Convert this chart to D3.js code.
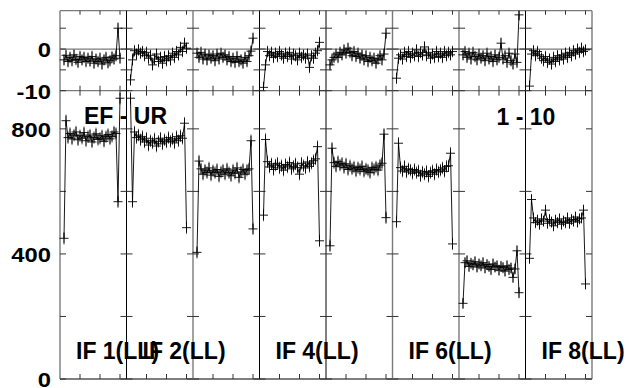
<!DOCTYPE html>
<html><head><meta charset="utf-8">
<script src="https://cdn.jsdelivr.net/npm/d3@7"></script>
<style>
html,body{margin:0;padding:0;background:#fff;}
svg{display:block;}
text{font-family:"Liberation Sans",Arial,Helvetica,sans-serif;font-weight:bold;fill:#000;}
</style></head>
<body><svg id="c" width="629" height="388"></svg>
<script>
// ---------- data ----------
const ifNames = ["IF 1(LL)","IF 2(LL)","IF 3(LL)","IF 4(LL)","IF 5(LL)","IF 6(LL)","IF 7(LL)","IF 8(LL)"];
const shownIfLabels = [true,true,false,true,false,true,false,true];
const channels = d3.range(2,31); // channel numbers 2..30
const channelTicks = [10,20,30];
const phaseTicks = [-10,-5,0,5];
const phaseTickLabels = [-10,0];
const ampTicks = [0,200,400,600,800];
const ampTickLabels = [0,400,800];
const title = "EF - UR";
const timeRange = "1 - 10";

const amp1 = [450,826,772,785,768,780,790,765,778,770,788,762,775,780,758,772,784,766,770,778,760,775,782,768,776,790,785,567,898];
const amp2 = [898,567,790,772,780,765,775,758,770,748,762,755,768,745,760,770,752,765,758,772,760,768,755,775,762,778,770,818,484];
const amp3 = [405,697,672,655,668,660,675,652,666,660,670,648,662,668,655,672,660,650,668,658,675,645,662,670,655,668,672,762,480];
const amp4 = [524,766,695,678,688,670,684,690,675,682,668,686,678,692,672,680,688,676,655,690,682,675,694,680,690,698,704,743,442];
const amp5 = [426,738,692,680,695,684,690,676,688,670,682,672,678,665,676,670,680,664,672,668,660,676,670,678,668,684,690,783,516];
const amp6 = [503,754,676,665,680,662,672,668,658,670,660,666,650,662,655,664,648,660,666,655,670,662,668,675,664,680,682,722,432];
const amp7 = [242,372,378,360,370,365,375,358,368,362,372,355,366,360,350,368,358,362,348,360,356,345,362,350,355,325,352,410,276];
const amp8 = [386,574,515,500,508,495,512,505,540,498,510,502,490,508,500,512,495,505,500,515,498,510,505,518,502,512,515,540,304];

const ph1 = [-2.6,-1.5,-3.0,-2.0,-2.8,-1.4,-2.5,-3.2,-1.8,-2.6,-2.0,-3.0,-2.2,-2.9,-1.8,-3.4,-2.4,-3.0,-2.2,-3.6,-2.6,-2.0,-3.3,-2.8,-1.9,-2.4,-1.6,5.0,-2.2];
const ph2 = [-7.4,-2.6,-0.4,-1.2,-0.2,-1.0,-0.6,-1.6,-0.8,-2.2,-1.5,-3.8,-2.4,-1.2,-3.0,-2.0,-3.4,-1.8,-2.8,-1.6,-2.6,-1.0,-2.0,-0.6,-1.4,0.4,-0.6,1.4,0.2];
const ph3 = [-1.0,-2.0,-0.8,-2.4,-1.2,-2.6,-1.4,-2.2,-1.6,-2.8,-1.2,-2.4,-1.0,-2.0,-1.4,-2.6,-1.8,-3.0,-2.2,-3.2,-1.8,-3.0,-2.6,-3.4,-2.0,-3.0,-1.6,-0.5,2.6];
const ph4 = [-9.2,-3.8,-0.6,-1.6,-0.8,-2.0,-1.0,-1.8,-0.6,-1.4,-2.2,-1.0,-1.8,-0.8,-2.4,-1.2,-1.6,-2.6,-1.0,-2.0,-1.4,-2.2,-1.2,-4.4,-1.6,-2.2,-1.0,-0.4,1.6];
const ph5 = [-3.8,-2.6,-2.0,-1.2,-2.0,-0.8,-1.4,-0.2,-1.0,0.2,-0.8,-1.6,-0.6,-1.8,-1.0,-2.2,-1.4,-2.6,-1.6,-3.0,-2.0,-2.8,-2.2,-3.4,-2.4,-1.6,-2.6,-1.2,3.8];
const ph6 = [-7.0,-2.2,-1.4,-2.4,-0.8,-1.8,-0.6,-2.0,-1.0,-1.6,-0.2,-1.8,-0.8,-1.4,0.5,-1.6,-0.8,-2.2,-1.2,-2.0,-0.6,-1.8,-1.0,-2.0,-0.6,-1.6,-0.8,-1.4,-0.6];
const ph7 = [-1.4,-0.6,-2.0,-1.0,-2.4,-0.8,-1.8,-2.6,-1.2,-2.2,-1.6,-2.8,-1.0,-2.4,-1.8,-3.0,-1.4,-2.6,-2.0,1.4,-2.4,-1.6,-3.2,-1.0,-2.8,-3.6,-1.2,-3.2,8.2];
const ph8 = [-8.9,-1.2,-0.4,-1.6,-0.6,-1.4,-2.2,-2.8,-1.8,-3.2,-2.4,-3.6,-2.0,-3.0,-1.6,-2.6,-1.4,-2.4,-1.0,-2.0,-0.8,-1.6,-0.4,-1.2,0.0,-0.8,0.2,-0.6,-0.2];

const ampErr = [20,20,20,20,20,20,18,18];
const phaseErr = [1.4,1.4,1.4,1.4,1.4,1.4,1.4,1.4];
const darkBorders = [1,3,4,7]; // panel borders that print black

const ampSeries = [amp1,amp2,amp3,amp4,amp5,amp6,amp7,amp8];
const phaseSeries = [ph1,ph2,ph3,ph4,ph5,ph6,ph7,ph8];

// ---------- layout ----------
const L = 60, R = 592;
const yTopPx = 10.7, yMidPx = 90.7, yBotPx = 379;
const svg = d3.select("#c");

const ifBand = d3.scaleBand().domain(d3.range(8)).range([L,R]).padding(0);
const pw = ifBand.bandwidth();
const xChan = i => d3.scaleLinear().domain([0,33.25]).range([ifBand(i), ifBand(i)+pw]);
const yPh = d3.scaleLinear().domain([-10,9.2]).range([yMidPx,yTopPx]);
const yAmp = d3.scaleLinear().domain([0,922]).range([yBotPx,yMidPx]);

const defs = svg.append("defs");
defs.append("clipPath").attr("id","clipTop").append("rect")
  .attr("x",L-10).attr("y",yTopPx).attr("width",R-L+20).attr("height",yMidPx-yTopPx);
defs.append("clipPath").attr("id","clipBot").append("rect")
  .attr("x",L-10).attr("y",yMidPx).attr("width",R-L+20).attr("height",yBotPx-yMidPx);

const gray = "#7a7a7a";
// frame
const frame = svg.append("g");
frame.append("line").attr("x1",L).attr("x2",R).attr("y1",yTopPx).attr("y2",yTopPx).attr("stroke",gray).attr("stroke-width",1.3);
frame.append("line").attr("x1",L).attr("x2",R).attr("y1",yPh(0)).attr("y2",yPh(0)).attr("stroke",gray).attr("stroke-width",1.3);
frame.append("line").attr("x1",L).attr("x2",R).attr("y1",yMidPx).attr("y2",yMidPx).attr("stroke",gray).attr("stroke-width",1.3);
frame.append("line").attr("x1",L).attr("x2",R).attr("y1",yBotPx).attr("y2",yBotPx).attr("stroke","#555").attr("stroke-width",1.3);
d3.range(9).forEach(k=>{
  const x = k<8 ? ifBand(k) : R;
  const dark = darkBorders.includes(k);
  frame.append("line").attr("x1",x).attr("x2",x).attr("y1",yTopPx).attr("y2",yBotPx)
    .attr("stroke",dark?"#000":gray).attr("stroke-width",dark?1:1.4);
});

// ticks
const tk = svg.append("g").attr("stroke","#333").attr("stroke-width",1);
d3.range(8).forEach(i=>{
  const xs = xChan(i);
  const x0 = ifBand(i), x1 = x0+pw;
  channelTicks.forEach(c=>{
    const x = xs(c);
    tk.append("line").attr("x1",x).attr("x2",x).attr("y1",yTopPx).attr("y2",yTopPx+4);
    tk.append("line").attr("x1",x).attr("x2",x).attr("y1",yMidPx-5).attr("y2",yMidPx+5);
    tk.append("line").attr("x1",x).attr("x2",x).attr("y1",yBotPx-5).attr("y2",yBotPx);
  });
  phaseTicks.forEach(v=>{
    const y = yPh(v);
    tk.append("line").attr("x1",x0).attr("x2",x0+6).attr("y1",y).attr("y2",y);
    tk.append("line").attr("x1",x1-6).attr("x2",x1).attr("y1",y).attr("y2",y);
  });
  ampTicks.forEach(v=>{
    const y = yAmp(v);
    tk.append("line").attr("x1",x0).attr("x2",x0+6).attr("y1",y).attr("y2",y);
    tk.append("line").attr("x1",x1-6).attr("x2",x1).attr("y1",y).attr("y2",y);
  });
});

// data
function drawSeries(g, i, vals, err, yScale){
  const xs = xChan(i);
  const pts = vals.map((v,j)=>({x:xs(channels[j]), y:yScale(v), e1:yScale(v-err), e2:yScale(v+err)}));
  g.selectAll(null).data(pts).enter().append("line")
    .attr("x1",d=>d.x).attr("x2",d=>d.x).attr("y1",d=>d.e1).attr("y2",d=>d.e2)
    .attr("stroke","#6a6a6a").attr("stroke-width",1);
  g.append("path").attr("d",d3.line().x(d=>d.x).y(d=>d.y)(pts))
    .attr("fill","none").attr("stroke","#000").attr("stroke-width",0.9);
  g.selectAll(null).data(pts).enter().append("path")
    .attr("d",d=>`M${d.x-4.5},${d.y}H${d.x+4.5}M${d.x},${d.y-5}V${d.y+5}`)
    .attr("stroke","#000").attr("stroke-width",0.9).attr("fill","none");
}
const gTop = svg.append("g").attr("clip-path","url(#clipTop)");
const gBot = svg.append("g").attr("clip-path","url(#clipBot)");
d3.range(8).forEach(i=>{
  drawSeries(gTop.append("g"), i, phaseSeries[i], phaseErr[i], yPh);
  drawSeries(gBot.append("g"), i, ampSeries[i], ampErr[i], yAmp);
});

// axis labels
const lab = svg.append("g");
function yLabel(v, y){
  lab.append("text").attr("transform",`translate(51,${y+8}) scale(1.22,1)`)
    .attr("text-anchor","end").attr("font-size",19.5).text(v);
}
phaseTickLabels.forEach(v=>yLabel(v, yPh(v)));
ampTickLabels.forEach(v=>yLabel(v, yAmp(v)));

// titles
svg.append("text").attr("x",84).attr("y",124).attr("font-size",23).text(title);
svg.append("text").attr("x",496.5).attr("y",124.5).attr("font-size",23).text(timeRange);
ifNames.forEach((n,i)=>{
  if(!shownIfLabels[i]) return;
  svg.append("text").attr("x",ifBand(i)+16).attr("y",359.3).attr("font-size",23).text(n);
});
</script></body></html>
